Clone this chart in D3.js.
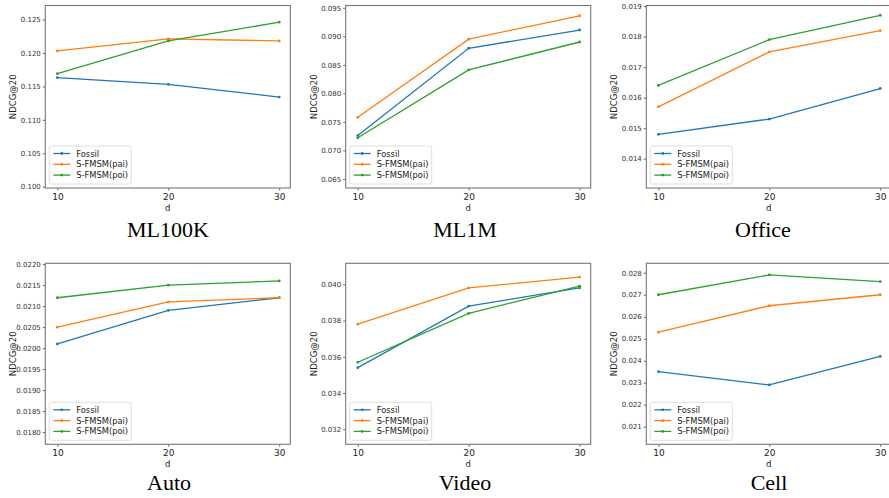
<!DOCTYPE html>
<html>
<head>
<meta charset="utf-8">
<script src="https://cdn.jsdelivr.net/npm/d3@7"></script>
<style>
  html, body { margin: 0; padding: 0; background: #fff; }
  svg { display: block; }
</style>
</head>
<body>
<svg id="chart" width="889" height="498"></svg>
<script>
// ---- data ----
const dValues = [10, 20, 30];
const datasets = ['ML100K', 'ML1M', 'Office', 'Auto', 'Video', 'Cell'];
const seriesNames = ['Fossil', 'S-FMSM(pai)', 'S-FMSM(poi)'];
const seriesColors = ['#1f77b4', '#ff7f0e', '#2ca02c'];

const fossil = [
  [0.1163, 0.1153, 0.1134],
  [0.0726, 0.0879, 0.0911],
  [0.0148, 0.0153, 0.0163],
  [0.0201, 0.0209, 0.0212],
  [0.0354, 0.0388, 0.0398],
  [0.0235, 0.0229, 0.0242]
];
const sfmsmPai = [
  [0.1203, 0.1221, 0.1218],
  [0.0758, 0.0895, 0.0936],
  [0.0157, 0.0175, 0.0182],
  [0.0205, 0.0211, 0.0212],
  [0.0378, 0.0398, 0.0404],
  [0.0253, 0.0265, 0.0270]
];
const sfmsmPoi = [
  [0.1169, 0.1218, 0.1246],
  [0.0722, 0.0841, 0.0890],
  [0.0164, 0.0179, 0.0187],
  [0.0212, 0.0215, 0.0216],
  [0.0357, 0.0384, 0.0399],
  [0.0270, 0.0279, 0.0276]
];

const yTickLabels = [
  ['0.100', '0.105', '0.110', '0.115', '0.120', '0.125'],
  ['0.065', '0.070', '0.075', '0.080', '0.085', '0.090', '0.095'],
  ['0.014', '0.015', '0.016', '0.017', '0.018', '0.019'],
  ['0.0180', '0.0185', '0.0190', '0.0195', '0.0200', '0.0205', '0.0210', '0.0215', '0.0220'],
  ['0.032', '0.034', '0.036', '0.038', '0.040'],
  ['0.021', '0.022', '0.023', '0.024', '0.025', '0.026', '0.027', '0.028']
];
const yLimits = [
  [0.0998, 0.1271],
  [0.0634, 0.0954],
  [0.01304, 0.01902],
  [0.01771, 0.02202],
  [0.03117, 0.04116],
  [0.0202, 0.02843]
];
const xLimits = [8.91, 31.0];

// ---- layout ----
const colLeft = [45.3, 345.7, 646.3];
const boxWidth = 245;
const rowTop = [5.5, 263.3];
const rowBottom = [188, 444.3];
const titleX = [168, 465, 763, 169, 465, 769];
const titleY = [237, 490];

const svg = d3.select('#chart');
const allSeries = [fossil, sfmsmPai, sfmsmPoi];

datasets.forEach((name, p) => {
  const col = p % 3;
  const row = Math.floor(p / 3);
  const x0 = colLeft[col];
  const x1 = x0 + boxWidth;
  const top = rowTop[row];
  const bottom = rowBottom[row];

  const x = d3.scaleLinear().domain(xLimits).range([x0, x1]);
  const y = d3.scaleLinear().domain(yLimits[p]).range([bottom, top]);

  const g = svg.append('g');

  // y axis
  const yTicks = yTickLabels[p].map(Number);
  const yAxis = g.append('g')
    .attr('transform', `translate(${x0},0)`)
    .call(d3.axisLeft(y).tickValues(yTicks)
      .tickFormat((d, i) => yTickLabels[p][i])
      .tickSize(2.5).tickPadding(2));
  yAxis.select('.domain').remove();
  yAxis.selectAll('line').attr('stroke', '#666');
  yAxis.selectAll('text')
    .attr('fill', '#333')
    .style('font-family', 'DejaVu Sans')
    .style('font-size', '7px');

  // x axis
  const xAxis = g.append('g')
    .attr('transform', `translate(0,${bottom})`)
    .call(d3.axisBottom(x).tickValues(dValues).tickSize(2.5).tickPadding(3));
  xAxis.select('.domain').remove();
  xAxis.selectAll('line').attr('stroke', '#666');
  xAxis.selectAll('text')
    .attr('fill', '#222')
    .style('font-family', 'DejaVu Sans')
    .style('font-size', '9px');

  // axis labels
  g.append('text')
    .attr('x', (x0 + x1) / 2)
    .attr('y', bottom + 23)
    .attr('text-anchor', 'middle')
    .attr('fill', '#222')
    .style('font-family', 'DejaVu Sans')
    .style('font-size', '8.5px')
    .text('d');
  g.append('text')
    .attr('transform', `translate(${x0 - 29},${(top + bottom) / 2}) rotate(-90)`)
    .attr('text-anchor', 'middle')
    .attr('fill', '#222')
    .style('font-family', 'DejaVu Sans')
    .style('font-size', '8.5px')
    .text('NDCG@20');

  // lines + markers
  const line = d3.line().x((d) => x(d[0])).y((d) => y(d[1]));
  allSeries.forEach((series, s) => {
    const pts = dValues.map((d, i) => [d, series[p][i]]);
    g.append('path')
      .attr('d', line(pts))
      .attr('fill', 'none')
      .attr('stroke', seriesColors[s])
      .attr('stroke-width', 1.3);
    g.append('g')
      .selectAll('circle')
      .data(pts)
      .enter()
      .append('circle')
      .attr('cx', (d) => x(d[0]))
      .attr('cy', (d) => y(d[1]))
      .attr('r', 1.4)
      .attr('fill', seriesColors[s]);
  });

  // frame
  g.append('rect')
    .attr('x', x0)
    .attr('y', top)
    .attr('width', x1 - x0)
    .attr('height', bottom - top)
    .attr('fill', 'none')
    .attr('stroke', '#777')
    .attr('stroke-width', 1.1);

  // legend
  const lx = x0 + 4;
  const ly = bottom - 42;
  const legend = g.append('g').attr('transform', `translate(${lx},${ly})`);
  legend.append('rect')
    .attr('width', 82)
    .attr('height', 38)
    .attr('rx', 2)
    .attr('fill', '#fff')
    .attr('fill-opacity', 0.8)
    .attr('stroke', '#d5d5d5')
    .attr('stroke-width', 0.8);
  seriesNames.forEach((sn, s) => {
    const yy = 7.5 + s * 10.8;
    legend.append('line')
      .attr('x1', 4).attr('x2', 21)
      .attr('y1', yy).attr('y2', yy)
      .attr('stroke', seriesColors[s])
      .attr('stroke-width', 1.3);
    legend.append('circle')
      .attr('cx', 12.5).attr('cy', yy).attr('r', 1.4)
      .attr('fill', seriesColors[s]);
    legend.append('text')
      .attr('x', 27)
      .attr('y', yy + 3)
      .attr('fill', '#222')
      .style('font-family', 'DejaVu Sans')
      .style('font-size', '8.3px')
      .text(sn);
  });

  // dataset title
  svg.append('text')
    .attr('x', titleX[p])
    .attr('y', titleY[row])
    .attr('text-anchor', 'middle')
    .attr('fill', '#000')
    .style('font-family', 'Liberation Serif')
    .style('font-size', '22px')
    .text(name);
});
</script>
</body>
</html>
